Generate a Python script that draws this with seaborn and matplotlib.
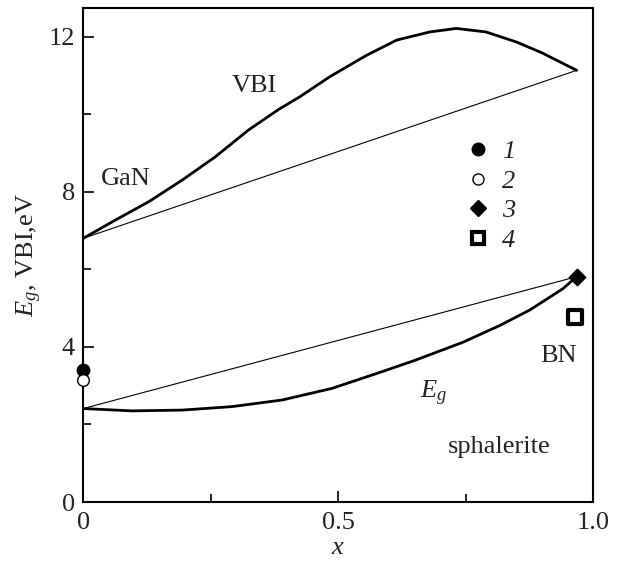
import matplotlib
matplotlib.use("Agg")
import matplotlib.pyplot as plt
import seaborn as sns
import numpy as np
import pandas as pd
from matplotlib.ticker import MultipleLocator, FixedLocator
from matplotlib.lines import Line2D

# ---- data ----
vbi_x = [0.0, 0.063, 0.128, 0.194, 0.259, 0.324, 0.383, 0.425, 0.483, 0.556, 0.615, 0.680, 0.732, 0.790, 0.850, 0.900, 0.968]
vbi_y = [6.80, 7.27, 7.74, 8.30, 8.90, 9.59, 10.12, 10.45, 10.96, 11.52, 11.91, 12.12, 12.21, 12.12, 11.86, 11.58, 11.13]

eg_x = [0.0, 0.095, 0.194, 0.292, 0.390, 0.488, 0.586, 0.650, 0.745, 0.817, 0.876, 0.941, 0.968]
eg_y = [2.41, 2.35, 2.37, 2.46, 2.63, 2.93, 3.36, 3.65, 4.12, 4.55, 4.95, 5.50, 5.81]

vbi_lin_x = [0.0, 0.968]
vbi_lin_y = [6.80, 11.13]
eg_lin_x = [0.0, 0.968]
eg_lin_y = [2.41, 5.81]

# experimental points: series 1..4
p1_x, p1_y = [0.0], [3.40]
p2_x, p2_y = [0.0], [3.14]
p3_x, p3_y = [0.968], [5.81]
p4_x, p4_y = [0.965], [4.76]
series_labels = ["1", "2", "3", "4"]

x_ticks = [0.0, 0.5, 1.0]
x_ticklabels = ["0", "0.5", "1.0"]
y_ticks = [0, 4, 8, 12]
y_ticklabels = ["0", "4", "8", "12"]

# ---- style ----
sns.set_theme(style="ticks")
plt.rcParams["font.family"] = ["Liberation Serif", "DejaVu Serif"]
plt.rcParams["mathtext.fontset"] = "custom"
plt.rcParams["mathtext.rm"] = "Liberation Serif"
plt.rcParams["mathtext.it"] = "Liberation Serif:italic"
plt.rcParams["mathtext.bf"] = "Liberation Serif:bold"

FS = 19

fig = plt.figure(figsize=(6.18, 5.64), dpi=100)
ax = fig.add_axes([0.1348, 0.1099, 0.8247, 0.8768])

thick = 2.0
thin = 0.8
sns.lineplot(x=vbi_x, y=vbi_y, ax=ax, color="black", lw=thick, sort=False)
sns.lineplot(x=eg_x, y=eg_y, ax=ax, color="black", lw=thick, sort=False)
sns.lineplot(x=vbi_lin_x, y=vbi_lin_y, ax=ax, color="black", lw=thin, sort=False)
sns.lineplot(x=eg_lin_x, y=eg_lin_y, ax=ax, color="black", lw=thin, sort=False)

sns.scatterplot(x=p1_x, y=p1_y, ax=ax, marker="o", s=80, color="black",
                edgecolor="black", linewidth=1, clip_on=False, zorder=5)
sns.scatterplot(x=p2_x, y=p2_y, ax=ax, marker="o", s=70, color="white",
                edgecolor="black", linewidth=1, clip_on=False, zorder=5)
sns.scatterplot(x=p3_x, y=p3_y, ax=ax, marker="D", s=70, color="black",
                edgecolor="black", linewidth=1, clip_on=False, zorder=5)
sns.scatterplot(x=p4_x, y=p4_y, ax=ax, marker="s", s=90, color="white",
                edgecolor="black", linewidth=3, clip_on=False, zorder=5)

ax.set_xlim(0, 1.0)
ax.set_ylim(0, 12.75)

ax.xaxis.set_major_locator(FixedLocator(x_ticks))
ax.set_xticklabels(x_ticklabels)
ax.xaxis.set_minor_locator(MultipleLocator(0.25))
ax.yaxis.set_major_locator(FixedLocator(y_ticks))
ax.set_yticklabels(y_ticklabels)
ax.yaxis.set_minor_locator(MultipleLocator(2))

ax.tick_params(which="both", direction="in", color="black", labelsize=FS,
               labelcolor="#222222")
ax.tick_params(which="major", length=8, width=1.2, pad=7)
ax.tick_params(which="minor", length=6, width=1.2)
ax.tick_params(axis="y", which="major", pad=6)
for sp in ax.spines.values():
    sp.set_visible(True)
    sp.set_linewidth(1.5)
    sp.set_color("black")

ax.set_xlabel("$x$", fontsize=FS, labelpad=2, color="#222222")
ax.set_ylabel("$E_g$, VBI,eV", fontsize=FS, labelpad=3, color="#222222")

# annotations
tc = "#222222"
ax.text(0.336, 10.57, "VBI", fontsize=FS, ha="center", va="baseline", color=tc)
ax.text(0.083, 8.17, "GaN", fontsize=FS, ha="center", va="baseline", color=tc)
ax.text(0.933, 3.62, "BN", fontsize=FS, ha="center", va="baseline", color=tc)
ax.text(0.660, 2.67, "$E_g$", fontsize=FS, ha="left", va="baseline", color=tc)
ax.text(0.817, 1.255, "sphalerite", fontsize=FS, ha="center", va="baseline", color=tc)

# legend
handles = [
    Line2D([], [], ls="none", marker="o", ms=9, mfc="black", mec="black"),
    Line2D([], [], ls="none", marker="o", ms=8, mfc="white", mec="black", mew=1),
    Line2D([], [], ls="none", marker="D", ms=8, mfc="black", mec="black"),
    Line2D([], [], ls="none", marker="s", ms=9, mfc="white", mec="black", mew=3),
]
leg = ax.legend(handles, series_labels, loc="upper left",
                bbox_to_anchor=(0.723, 0.759), frameon=False,
                prop={"family": "Liberation Serif", "style": "italic", "size": FS},
                handlelength=1.0, handletextpad=0.4, labelspacing=0.23,
                borderpad=0.0)
for t in leg.get_texts():
    t.set_color(tc)

fig.savefig("out.png", dpi=100)
